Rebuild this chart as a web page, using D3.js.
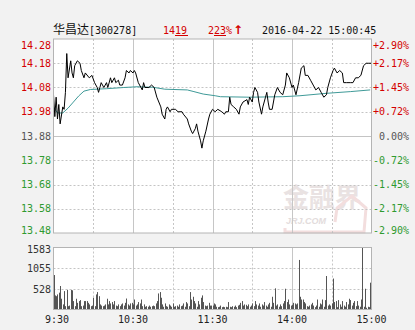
<!DOCTYPE html>
<html lang="zh">
<head>
    <meta charset="UTF-8">
    <title>华昌达 分时</title>
    <script src="https://d3js.org/d3.v7.min.js"></script>
    <style>
        body {
            margin: 0;
            padding: 0;
            background-color: #f2f2f2;
        }

        svg {
            display: block;
        }

        .lbl {
            font-family: "DejaVu Sans Mono", monospace;
            font-size: 10px;
        }
    </style>
</head>
<body>
<svg id="chart"></svg>

<script>
    // price axis ticks (left) and percent labels (right)
    const priceTicks = [14.28, 14.18, 14.08, 13.98, 13.88, 13.78, 13.68, 13.58, 13.48];
    const pctLabels = ["+2.90%", "+2.17%", "+1.45%", "+0.72%", "0.00%", "-0.72%", "-1.45%", "-2.17%", "-2.90%"];
    const prevClose = 13.88;
    const volTicks = [1583, 1055, 528];
    const timeLabels = ["9:30", "10:30", "11:30", "14:00", "15:00"];
    const timeLabelMin = [0, 60, 120, 180, 240];
    const gridMin = [30, 60, 90, 120, 150, 180, 210];

    // minute price line (minutes from 9:30, 11:30 and 13:00 merged at 120)
    const priceMin = [0, 1, 2, 3, 4, 5, 7, 8, 9, 10, 11, 13, 14, 15, 16, 18, 20, 21, 23, 24, 27, 29, 31, 33, 34, 35, 36, 38, 40, 41,
        43, 44, 46, 47, 49, 50, 52, 54, 55, 57, 58, 60, 61, 62, 64, 67, 68, 69, 72, 74, 76, 78, 81, 82, 84, 85, 86, 88, 89, 91,
        92, 94, 97, 98, 101, 102, 104, 105, 107, 108, 109, 111, 112, 113, 115, 117, 118, 120,
        122, 124, 127, 129, 130, 132, 133, 134, 136, 138, 140, 141, 143, 146, 147, 148, 150, 151, 152, 154, 155, 157, 158, 160,
        161, 162, 163, 165, 167, 169, 171, 173, 175, 176, 178, 180, 181, 183, 185, 187, 189, 190, 192, 194, 196, 198, 200, 202,
        204, 206, 207, 209, 211, 212, 214, 216, 218, 219, 221, 224, 226, 228, 230, 232, 234, 236, 238, 240];
    const price = [14.05, 13.96, 14.04, 13.95, 14.01, 13.93, 14.00, 13.99, 14.06, 14.22, 14.12, 14.19, 14.14, 14.12, 14.17, 14.19, 14.18, 14.15, 14.12, 14.14, 14.12, 14.13, 14.10, 14.08, 14.06, 14.08, 14.10, 14.08, 14.10, 14.08,
        14.12, 14.10, 14.12, 14.10, 14.11, 14.09, 14.09, 14.12, 14.15, 14.14, 14.15, 14.14, 14.15, 14.14, 14.10, 14.07, 14.10, 14.08, 14.08, 14.09, 14.08, 14.04, 14.00, 13.97, 13.95, 13.99, 14.00, 13.98, 13.99, 13.99,
        13.99, 13.98, 13.98, 13.97, 13.95, 13.93, 13.90, 13.89, 13.91, 13.93, 13.90, 13.86, 13.83, 13.86, 13.90, 13.95, 13.97, 13.99,
        13.98, 13.99, 13.98, 13.97, 13.98, 13.98, 14.04, 14.01, 14.00, 13.99, 13.97, 14.00, 14.02, 14.03, 14.01, 14.04, 14.02, 14.06, 14.08, 14.06, 14.02, 13.97, 14.00, 14.04,
        14.06, 14.02, 13.99, 13.99, 14.05, 14.08, 14.06, 14.05, 14.09, 14.14, 14.12, 14.08, 14.09, 14.05, 14.10, 14.16, 14.17, 14.13, 14.13, 14.11, 14.09, 14.07, 14.08, 14.06,
        14.04, 14.05, 14.08, 14.12, 14.15, 14.16, 14.14, 14.15, 14.14, 14.10, 14.10, 14.10, 14.10, 14.12, 14.12, 14.13, 14.17, 14.18, 14.18, 14.18];

    // average price line
    const avgMin = [0, 3, 7, 11, 15, 19, 23, 28, 40, 53, 63, 75, 84, 101, 106, 113, 122, 126, 148, 173, 186, 206, 224, 239];
    const avgPrice = [14.00, 13.975, 13.975, 13.995, 14.02, 14.045, 14.065, 14.072, 14.075, 14.08, 14.083, 14.081, 14.073, 14.07, 14.063, 14.053, 14.046, 14.042, 14.04, 14.042, 14.046, 14.056, 14.063, 14.07];

    // volume per minute (lots)
    const volMorning = [880, 360, 340, 385, 430, 600, 275, 130, 470, 85, 500, 85, 100, 500, 490, 215, 85, 275, 170, 215,
        240, 85, 100, 215, 215, 215, 170, 130, 85, 100, 300, 85, 385, 445, 340, 130, 100, 85, 100, 130,
        275, 130, 215, 155, 190, 130, 215, 100, 85, 130, 85, 130, 155, 100, 170, 280, 130, 100, 155, 170,
        130, 255, 100, 130, 190, 155, 255, 85, 130, 70, 85, 70, 100, 70, 85, 100, 85, 155, 215, 410,
        445, 300, 130, 70, 155, 85, 70, 130, 100, 70, 155, 70, 85, 100, 70, 130, 85, 100, 155, 70,
        190, 155, 85, 445, 255, 325, 215, 155, 70, 215, 130, 300, 360, 190, 100, 85, 100, 170, 100, 100, 100];
    const volAfternoon = [155, 130, 70, 60, 70, 100, 60, 70, 60, 70, 60, 190, 70, 60, 85, 70, 100, 60, 100, 120,
        170, 215, 100, 130, 120, 85, 130, 70, 100, 155, 85, 215, 130, 100, 155, 70, 130, 100, 190, 100,
        70, 130, 170, 70, 325, 170, 540, 100, 130, 70, 130, 85, 155, 215, 530, 190, 255, 130, 100, 120,
        170, 155, 130, 155, 1265, 325, 255, 255, 190, 155, 85, 70, 100, 130, 170, 100, 60, 100, 255, 70,
        155, 130, 255, 70, 240, 855, 100, 130, 100, 155, 790, 190, 215, 60, 240, 130, 70, 215, 100, 70,
        190, 130, 275, 240, 100, 170, 215, 85, 215, 100, 70, 255, 1583, 70, 530, 45, 70, 60, 685];

    const width = 415;
    const height = 330;
    const left = 53.5, right = 371.5;
    const pTop = 39, pBottom = 233;
    const vTop = 247.5, vBottom = 309.5;

    const svg = d3.select("#chart")
        .attr("width", width)
        .attr("height", height);

    const x = d3.scaleLinear().domain([0, 240]).range([left, right]);
    const y = d3.scaleLinear().domain([13.48, 14.28]).range([pBottom, pTop]);
    const yv = d3.scaleLinear().domain([0, 1583]).range([vBottom, vTop]);

    // panels
    svg.append("rect").attr("x", left).attr("y", pTop).attr("width", right - left).attr("height", pBottom - pTop)
        .attr("fill", "#fff");
    svg.append("rect").attr("x", left).attr("y", vTop).attr("width", right - left).attr("height", vBottom - vTop)
        .attr("fill", "#fff");

    // watermark
    svg.append("text").attr("x", 283).attr("y", 207)
        .style("font-family", "'Noto Sans CJK SC'").style("font-size", "26px").style("font-weight", "bold")
        .attr("fill", "#e9e2e2").text("金融界");
    svg.append("text").attr("x", 286).attr("y", 224)
        .style("font-family", "Arial, 'Liberation Sans'").style("font-size", "9px").style("font-style", "italic")
        .style("font-weight", "bold").attr("fill", "#e3dcdc").text("JRJ.COM");
    svg.append("path").attr("d", "M335,222 L337,208 L352,196 L366,208 L364,232 L285,232 L285,228")
        .attr("fill", "none").attr("stroke", "#f3dede").attr("stroke-width", 3);

    function hLines(scale, ticks, y0, y1, solidVal) {
        svg.append("g").selectAll("line")
            .data(ticks.filter(t => t !== y0 && t !== y1))
            .join("line")
            .attr("x1", left).attr("x2", right)
            .attr("y1", d => Math.round(scale(d)) + 0.5).attr("y2", d => Math.round(scale(d)) + 0.5)
            .attr("stroke", "#c4c4c4")
            .attr("stroke-dasharray", d => d === solidVal ? null : "2,2");
    }

    function vLines(yA, yB) {
        svg.append("g").selectAll("line")
            .data(gridMin)
            .join("line")
            .attr("x1", d => Math.round(x(d)) + 0.5).attr("x2", d => Math.round(x(d)) + 0.5)
            .attr("y1", yA).attr("y2", yB)
            .attr("stroke", "#c6c6c6")
            .attr("stroke-width", 1)
            .attr("stroke-dasharray", d => d % 60 === 0 ? null : "2,2");
    }

    hLines(y, priceTicks, 14.28, 13.48, prevClose);
    vLines(pTop, pBottom);
    hLines(yv, volTicks, 1583, 0, null);
    vLines(vTop, vBottom);

    // volume bars
    const vol = volMorning.concat(volAfternoon);
    svg.append("g").selectAll("rect")
        .data(vol)
        .join("rect")
        .attr("x", (d, i) => Math.round(x(i)))
        .attr("width", 1)
        .attr("y", d => yv(d))
        .attr("height", d => vBottom - yv(d))
        .attr("fill", "#555");

    // average line
    const avgData = avgMin.map((m, i) => [m, avgPrice[i]]);
    svg.append("path")
        .datum(avgData)
        .attr("fill", "none")
        .attr("stroke", "#3f9a98")
        .attr("stroke-width", 1)
        .attr("d", d3.line().x(d => x(d[0])).y(d => y(d[1])));

    // price line
    const priceData = priceMin.map((m, i) => [m, price[i]]);
    svg.append("path")
        .datum(priceData)
        .attr("fill", "none")
        .attr("stroke", "#000")
        .attr("stroke-width", 1)
        .attr("d", d3.line().x(d => x(d[0])).y(d => y(d[1])));

    // borders
    svg.append("rect").attr("x", left).attr("y", pTop).attr("width", right - left).attr("height", pBottom - pTop)
        .attr("fill", "none").attr("stroke", "#b4b4b4");
    svg.append("rect").attr("x", left).attr("y", vTop).attr("width", right - left).attr("height", vBottom - vTop)
        .attr("fill", "none").attr("stroke", "#b4b4b4");

    // price labels
    const colorOf = v => v > prevClose + 1e-6 ? "#d40000" : (v < prevClose - 1e-6 ? "#2f9a2f" : "#555");
    const labelY = v => Math.min(Math.max(y(v) + 3.5, pTop + 10), pBottom + 1);

    svg.append("g").selectAll("text")
        .data(priceTicks)
        .join("text")
        .attr("class", "lbl")
        .attr("x", 51)
        .attr("y", labelY)
        .attr("text-anchor", "end")
        .attr("fill", colorOf)
        .text(d => d.toFixed(2));

    svg.append("g").selectAll("text")
        .data(priceTicks)
        .join("text")
        .attr("class", "lbl")
        .attr("x", 409)
        .attr("y", labelY)
        .attr("text-anchor", "end")
        .attr("fill", colorOf)
        .text((d, i) => pctLabels[i]);

    // volume labels
    svg.append("g").selectAll("text")
        .data(volTicks)
        .join("text")
        .attr("class", "lbl")
        .attr("x", 51)
        .attr("y", d => Math.max(yv(d) + 4, vTop + 5))
        .attr("text-anchor", "end")
        .attr("fill", "#333")
        .text(d => d);

    // time labels
    svg.append("g").selectAll("text")
        .data(timeLabelMin)
        .join("text")
        .attr("class", "lbl")
        .attr("x", d => Math.max(x(d), 57))
        .attr("y", 323)
        .attr("text-anchor", "middle")
        .attr("fill", "#222")
        .text((d, i) => timeLabels[i]);

    // header
    const head = svg.append("text").attr("class", "lbl").attr("x", 53).attr("y", 34).attr("fill", "#111");
    head.append("tspan").style("font-family", "'Noto Sans CJK SC'").style("font-size", "12px").text("华昌达");
    head.append("tspan").text("[300278]");

    svg.append("text").attr("class", "lbl").attr("x", 163).attr("y", 34).attr("fill", "#d40000").text("1419");
    svg.append("line").attr("x1", 175).attr("x2", 188).attr("y1", 35.5).attr("y2", 35.5).attr("stroke", "#d40000");

    const pct = svg.append("text").attr("class", "lbl").attr("x", 208).attr("y", 34).attr("fill", "#d40000");
    pct.append("tspan").text("223%");
    pct.append("tspan").attr("dx", 1).style("font-family", "'DejaVu Sans'").style("font-size", "12px")
        .style("font-weight", "bold").text("↑");
    svg.append("line").attr("x1", 214).attr("x2", 226).attr("y1", 35.5).attr("y2", 35.5).attr("stroke", "#d40000");

    svg.append("text").attr("class", "lbl").attr("x", 262).attr("y", 34).attr("fill", "#111").text("2016-04-22 15:00:45");
</script>

</body>
</html>
